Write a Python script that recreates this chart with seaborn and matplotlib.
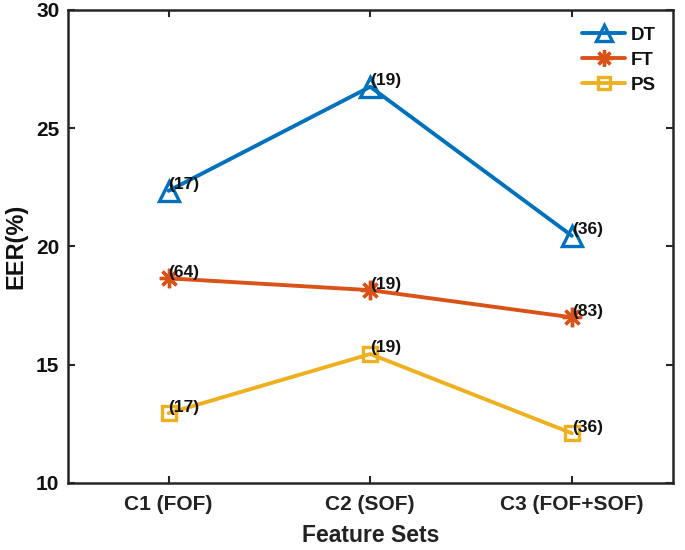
import matplotlib
matplotlib.use("Agg")
from matplotlib import pyplot as plt
import seaborn as sns
import pandas as pd

feature_sets = ['C1 (FOF)', 'C2 (SOF)', 'C3 (FOF+SOF)']
dt_eer = [22.35, 26.75, 20.45]
ft_eer = [18.65, 18.15, 17.0]
ps_eer = [12.95, 15.45, 12.1]
dt_n = ['(17)', '(19)', '(36)']
ft_n = ['(64)', '(19)', '(83)']
ps_n = ['(17)', '(19)', '(36)']

sns.set_style('ticks')
plt.rcParams['font.family'] = ['Liberation Sans', 'DejaVu Sans']
plt.rcParams['font.weight'] = 'bold'
txt = '#111111'

fig = plt.figure(figsize=(6.85, 5.5), dpi=100)
ax = fig.add_axes([0.099, 0.122, 0.883, 0.860])

series = [
    ('DT', dt_eer, dt_n, '#0072BD', '^', 14),
    ('FT', ft_eer, ft_n, '#D95319', (8, 2, 0), 14),
    ('PS', ps_eer, ps_n, '#EDB120', 's', 10.5),
]

for name, vals, counts, col, mk, ms in series:
    df = pd.DataFrame({'Feature Sets': feature_sets, 'EER': vals})
    sns.lineplot(data=df, x='Feature Sets', y='EER', ax=ax, color=col,
                 marker=mk, markersize=ms, markerfacecolor='none',
                 markeredgecolor=col, markeredgewidth=2.4, linewidth=2.8,
                 label=name, sort=False)
    for i, (v, c) in enumerate(zip(vals, counts)):
        ax.annotate(c, (i, v), xytext=(0, -1), textcoords='offset points',
                    ha='left', va='bottom', fontsize=12.5, fontweight='bold',
                    color=txt)

ax.set_xlim(-0.5, 2.5)
ax.set_ylim(10, 30)
ax.set_yticks([10, 15, 20, 25, 30])
ax.set_xlabel('Feature Sets', fontsize=16.5, fontweight='bold', color='#222222',
              labelpad=7)
ax.set_ylabel('EER(%)', fontsize=17, fontweight='bold', color=txt, labelpad=6)
ax.tick_params(axis='x', pad=9, labelsize=15, labelcolor='#222222')
ax.tick_params(axis='y', pad=6, labelsize=15, labelcolor=txt)
ax.tick_params(direction='in', length=5, width=1.5, top=True, right=True)
for lbl in ax.get_xticklabels() + ax.get_yticklabels():
    lbl.set_fontweight('bold')
for sp in ax.spines.values():
    sp.set_linewidth(1.8)
    sp.set_color('#262626')

leg = ax.legend(loc='upper right', frameon=False, fontsize=13.5,
                handlelength=2.3, handletextpad=0.3, borderaxespad=0.5,
                labelspacing=0.42, markerscale=0.85)
for t in leg.get_texts():
    t.set_color(txt)

fig.savefig('out.png', dpi=100)
